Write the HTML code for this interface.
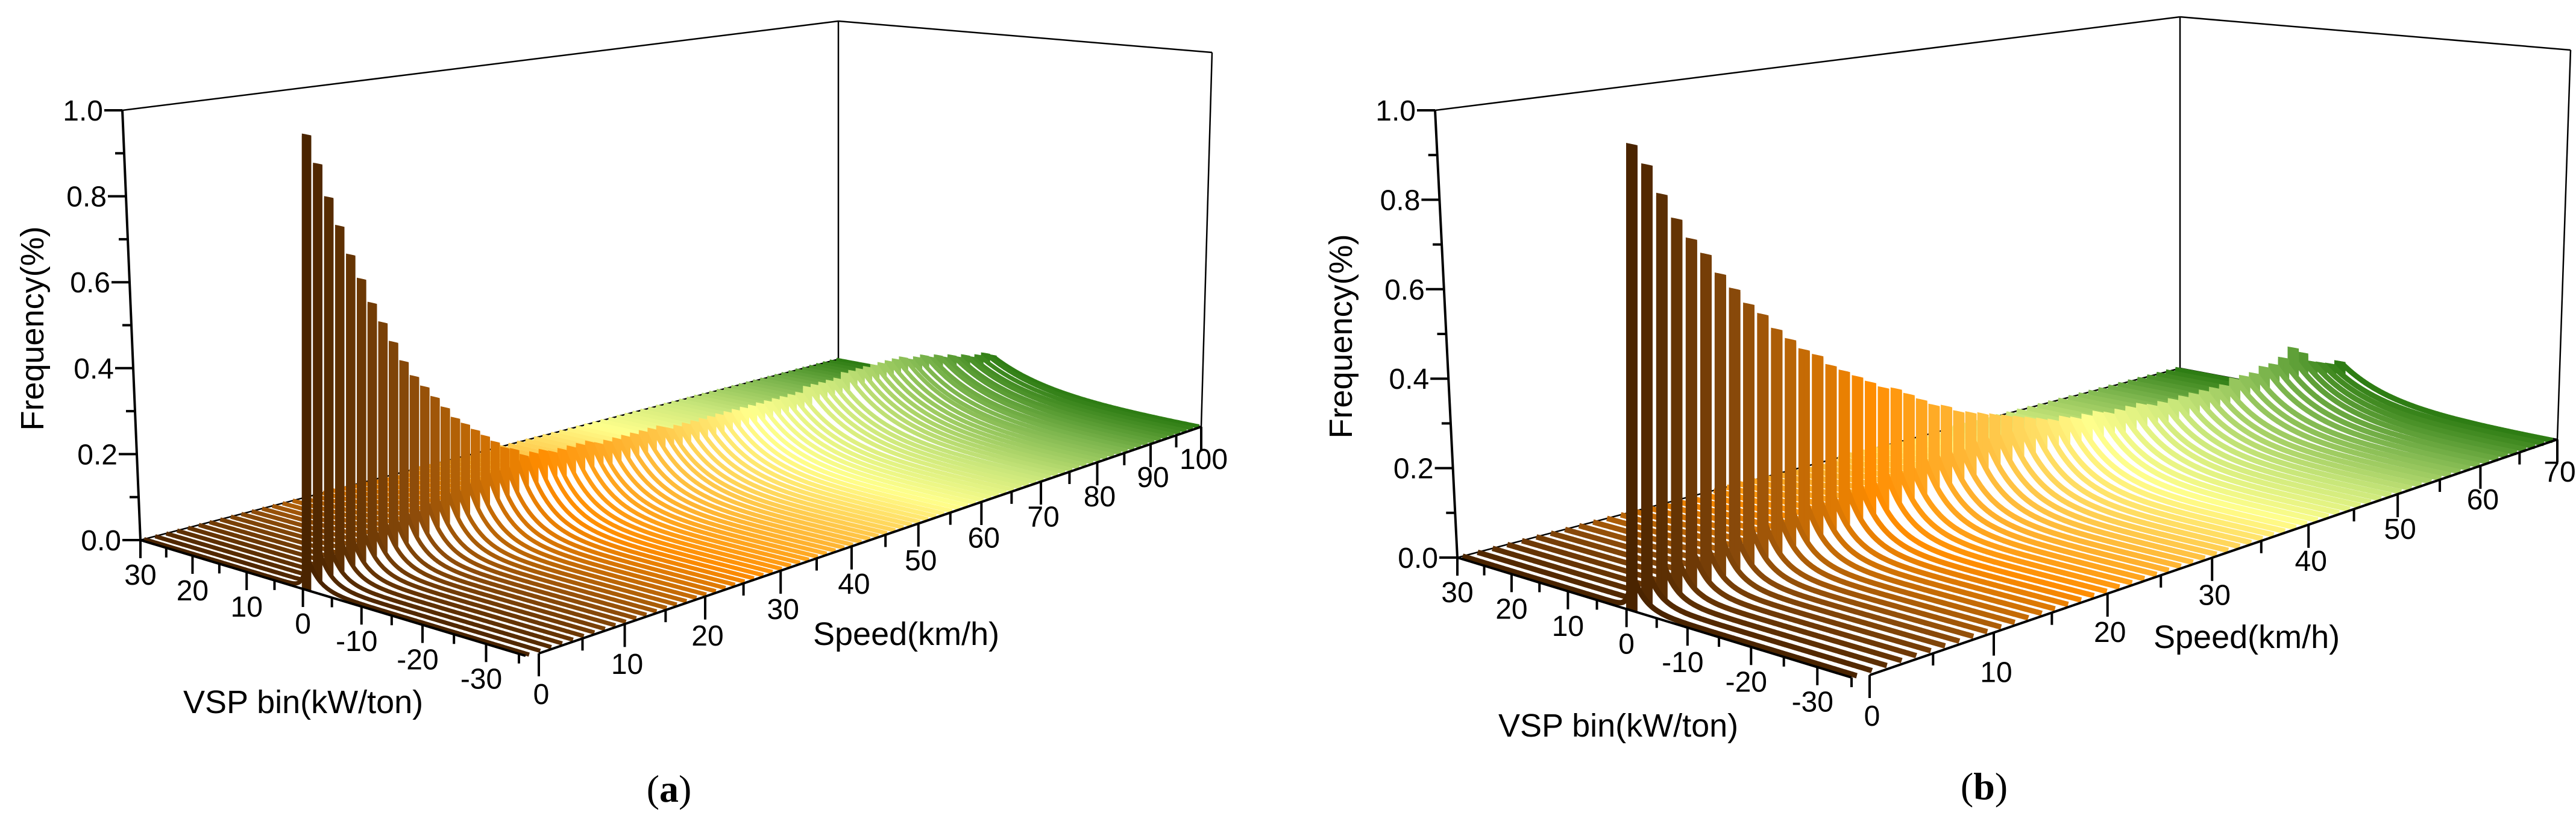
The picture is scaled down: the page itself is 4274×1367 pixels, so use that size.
<!DOCTYPE html>
<html><head><meta charset="utf-8"><style>
html,body{margin:0;padding:0;background:#fff;}
svg{display:block;}
text{font-family:"Liberation Sans",Arial,sans-serif;fill:#000;}
</style></head><body>
<svg id="fig" xmlns="http://www.w3.org/2000/svg" width="4274" height="1367" viewBox="0 0 4274 1367">
<rect x="0" y="0" width="4274" height="1367" fill="#fff"/>
<g id="chartA"></g>
<g id="chartB"></g>
<text x="1110" y="1330" font-size="64" text-anchor="middle" style="font-family:'Liberation Serif',serif">(<tspan font-weight="bold">a</tspan>)</text>
<text x="3292" y="1326" font-size="64" text-anchor="middle" style="font-family:'Liberation Serif',serif">(<tspan font-weight="bold">b</tspan>)</text>
</svg>
<script>
// ---------- data: chart (a) ----------
const speedStepA = 1.24;
const speedMaxA = 100;
const speedTicksA = [0,10,20,30,40,50,60,70,80,90,100];
const vspTicks = [30,20,10,0,-10,-20,-30];
const freqTicks = [0.0,0.2,0.4,0.6,0.8,1.0];
const peaksA = [1.01,0.94,0.86,0.79,0.72,0.66,0.60,0.55,0.50,0.45,0.41,0.38,0.35,0.32,0.29,0.27,0.25,0.23,0.21,0.19,0.18,0.16,
0.16,0.16,0.15,0.15,0.15,0.15,0.15,0.14,0.14,0.14,0.14,0.14,0.14,0.14,0.14,0.13,0.13,0.13,0.13,0.13,
0.13,0.13,0.13,0.13,0.13,0.13,0.13,0.13,0.13,0.13,0.13,0.13,0.14,0.14,0.14,0.14,0.14,0.15,0.15,0.15,
0.15,0.15,0.15,0.15,0.15,0.15,0.14,0.14,0.14,0.13,0.13,0.12,0.12,0.11,0.11,0.10,0.10,0.10,0.09];
const tailsA = [0.06,0.07,0.07,0.08,0.08,0.09,0.09,0.10,0.10,0.11,0.11,0.12,0.12,0.13,0.13,0.14,0.14,0.15,0.15,0.15,0.16,0.16];
const wNegA = [2,2.1,2.2,2.3,2.4,2.5,2.6,2.7,2.8,2.9,3,3.1,3.2,3.3,3.4,3.5,3.6,3.7,3.8,3.9,4,4.1,
4.2,4.3,4.4,4.5,4.6,4.7,4.8,4.9,5.0,5.1,5.2,5.3,5.4,5.5,5.6,5.7,5.8,5.9,6.0,6.1,6.2,6.3,6.4,6.5,6.6,6.7,6.8,6.9,7.0,7.1,7.2,7.3,7.4,7.5,7.6,7.7,7.8,7.9,8.0,8.1,8.2,8.3,8.4,8.5,8.6,8.7,8.8,8.9,9.0,9.1,9.2,9.3,9.4,9.5,9.6,9.7,9.8,9.9,10.0];
// ---------- data: chart (b) ----------
const speedStepB = 1.15;
const speedMaxB = 70;
const speedTicksB = [0,10,20,30,40,50,60,70];
const peaksB = [0.99,0.94,0.87,0.81,0.76,0.72,0.67,0.63,0.59,0.56,0.52,0.49,0.46,0.44,0.41,0.39,0.37,0.35,0.33,0.32,0.30,0.28,0.26,0.25,0.23,0.22,0.21,0.20,0.19,0.18,0.17,0.16,
0.15,0.15,0.14,0.14,0.14,0.13,0.13,0.13,0.13,0.12,0.12,0.12,0.12,0.12,0.12,0.12,0.12,0.13,0.13,0.13,0.14,0.14,0.15,0.17,0.15,0.12,0.11,0.10,0.10];
const tailsB = [0.06,0.06,0.07,0.07,0.08,0.08,0.09,0.09,0.10,0.10,0.11,0.11,0.12,0.12,0.12,0.13,0.13,0.13,0.14,0.14,0.14,0.15,0.15,0.15,0.15,0.16,0.16,0.16,0.16,0.16,0.16,0.16,
0.15,0.15,0.14,0.14,0.14,0.13,0.13,0.13,0.13,0.12,0.12,0.12,0.12,0.12,0.12,0.12,0.12,0.13,0.13,0.13,0.14,0.14,0.14,0.14,0.13,0.12,0.11,0.10,0.10];
const wNegB = [2.0,2.1,2.2,2.3,2.4,2.5,2.6,2.7,2.8,2.9,3.0,3.1,3.2,3.3,3.4,3.5,3.6,3.7,3.8,3.9,4.0,4.1,4.2,4.3,4.4,4.5,4.6,4.7,4.8,4.9,5.0,5.1,
5.2,5.3,5.4,5.5,5.6,5.7,5.8,5.9,6.0,6.1,6.2,6.3,6.4,6.5,6.6,6.7,6.8,6.9,7.0,7.1,7.2,7.3,7.4,7.5,7.6,7.7,7.8,7.9,8.0];

const NS = "http://www.w3.org/2000/svg";
function sq2quad(p0,p1,p2,p3){
  const [x0,y0]=p0,[x1,y1]=p1,[x2,y2]=p2,[x3,y3]=p3;
  const sx=x0-x1+x2-x3, sy=y0-y1+y2-y3;
  const dx1=x1-x2,dx2=x3-x2,dy1=y1-y2,dy2=y3-y2;
  const det=dx1*dy2-dx2*dy1;
  const g=(sx*dy2-dx2*sy)/det, h=(dx1*sy-sx*dy1)/det;
  const a=x1-x0+g*x1, b=x3-x0+h*x3, c=x0, d=y1-y0+g*y1, e=y3-y0+h*y3, f=y0;
  return (u,v)=>{const w=g*u+h*v+1;return [(a*u+b*v+c)/w,(d*u+e*v+f)/w];};
}
const colorStops=[[0,[74,36,0]],[0.12,[138,74,10]],[0.28,[255,140,0]],[0.45,[255,200,74]],[0.58,[255,255,140]],[0.72,[200,230,122]],[0.86,[128,184,80]],[1,[46,125,20]]];
function colorAt(t){
  for(let i=1;i<colorStops.length;i++){
    if(t<=colorStops[i][0]){const [t0,c0]=colorStops[i-1],[t1,c1]=colorStops[i];const f=(t-t0)/(t1-t0);
      return 'rgb('+c0.map((c,j)=>Math.round(c+(c1[j]-c)*f)).join(',')+')';}
  }
  return 'rgb(46,125,20)';
}
function el(parent,tag,attrs,txt){const e=document.createElementNS(NS,tag);for(const k in attrs)e.setAttribute(k,attrs[k]);if(txt!==undefined)e.textContent=txt;parent.appendChild(e);return e;}

function drawChart(g,cfg,peaks,tails,wNeg,speedStep,speedMax,speedTicks){
  const vmin=cfg.vmin;
  const Hf=sq2quad(cfg.A,cfg.D,cfg.C,cfg.B);
  const Ht=sq2quad(cfg.At,cfg.Dt,cfg.Ct,cfg.Bt);
  function proj(s,vsp,z){const u=s/speedMax,v=(30-vsp)/(30-vmin);const f=Hf(u,v),t=Ht(u,v);return [f[0]+(t[0]-f[0])*z,f[1]+(t[1]-f[1])*z];}
  // vertical-only projection for data marks
  function projV(s,vsp,z){const u=s/speedMax,v=(30-vsp)/(30-vmin);const f=Hf(u,v),t=Ht(u,v);return [f[0],f[1]+(t[1]-f[1])*z];}
  const frame=[[proj(0,30,1),proj(speedMax,30,1)],[proj(speedMax,30,1),proj(speedMax,vmin,1)],
    [proj(speedMax,30,0),proj(speedMax,30,1)],[proj(speedMax,vmin,0),proj(speedMax,vmin,1)],
    [proj(0,30,0),proj(speedMax,30,0)],[proj(speedMax,30,0),proj(speedMax,vmin,0)]];
  frame.forEach(([p,q])=>{
    const l=el(g,'line',{x1:p[0],y1:p[1],x2:q[0],y2:q[1],stroke:'#000','stroke-width':2.5});
    
    
  });
  const n=peaks.length, hb=cfg.half;
  for(let k=n-1;k>=0;k--){
    const s=k*speedStep+cfg.s0;
    const pk=peaks[k], tl=(k<tails.length?tails[k]:pk), wn=wNeg[k], wp=wn*0.3;
    const col=colorAt(k/(n-1));
    const pts=[];
    for(let vsp=30;vsp>hb;vsp-=0.25) pts.push([vsp,0.5*tl*Math.exp(-(vsp-hb)/wp)]);
    pts.push([hb,0.5*tl]);pts.push([hb,pk]);pts.push([-hb,pk]);pts.push([-hb,tl]);
    for(let vsp=-hb-0.2;vsp>=vmin;vsp-=0.2) pts.push([vsp,tl*Math.exp((vsp+hb)/wn)]);
    pts.push([vmin,tl*Math.exp((vmin+hb)/wn)]);
    let d='';
    pts.forEach(([v,z],i)=>{const p=projV(s,v,z);d+=(i?'L':'M')+p[0].toFixed(1)+','+p[1].toFixed(1);});
    const path=el(g,'path',{d:d,fill:'#fff',stroke:col,'stroke-width':cfg.sw,'stroke-linejoin':'round'});
    
    
    const b=[projV(s,hb,0),projV(s,hb,pk),projV(s,-hb,pk),projV(s,-hb,0)];
    const bar=el(g,'polygon',{points:b.map(p=>p[0].toFixed(1)+','+p[1].toFixed(1)).join(' '),fill:col,stroke:col,'stroke-width':cfg.sw,'stroke-linejoin':'miter'});
    
    
  }
  const z0=proj(0,30,0),z1=proj(0,30,1);
  const za=el(g,'line',{x1:z0[0],y1:z0[1],x2:z1[0],y2:z1[1],stroke:'#000','stroke-width':4});
  
  
  for(let i=0;i<=10;i++){
    const p=proj(0,30,i/10);const len=i%2===0?30:15;
    const t=el(g,'line',{x1:p[0]-len,y1:p[1],x2:p[0],y2:p[1],stroke:'#000','stroke-width':4});
    
    
  }
  freqTicks.forEach(v=>{
    const p=proj(0,30,v);
    const t=el(g,'text',{x:p[0]-32,y:p[1]+17,'font-size':48,'text-anchor':'end'},v.toFixed(1));
    
    
  });
  const v0=proj(0,30,0),v1=proj(0,vmin,0);
  const va=el(g,'line',{x1:v0[0],y1:v0[1],x2:v1[0],y2:v1[1],stroke:'#000','stroke-width':4});
  
  
  for(let vsp=30;vsp>=vmin;vsp-=5){
    const p=proj(0,vsp,0);const len=vsp%10===0?30:16;
    const t=el(g,'line',{x1:p[0],y1:p[1],x2:p[0],y2:p[1]+len,stroke:'#000','stroke-width':4});
    
    
  }
  vspTicks.forEach(v=>{
    const p=proj(0,v,0);
    const t=el(g,'text',{x:p[0]-(v<0?8:0),y:p[1]+74,'font-size':48,'text-anchor':'middle'},String(v));
    
    
  });
  const off=cfg.sOff;
  const s0=proj(0,vmin,0),s1=proj(speedMax,vmin,0);
  const sa=el(g,'line',{x1:s0[0]+off[0],y1:s0[1]+off[1],x2:s1[0],y2:s1[1],stroke:'#000','stroke-width':4});
  
  
  function sp(s){const p=proj(s,vmin,0);const f=1-s/speedMax;return [p[0]+off[0]*f,p[1]+off[1]*f];}
  for(let s=0;s<=speedMax;s+=5){
    const p=sp(s);const len=s%10===0?38:20;
    const t=el(g,'line',{x1:p[0],y1:p[1],x2:p[0],y2:p[1]+len,stroke:'#000','stroke-width':4});
    
    
  }
  speedTicks.forEach(s=>{
    const p=sp(s);
    const t=el(g,'text',{x:p[0]+4,y:p[1]+84-s/speedMax*14,'font-size':48,'text-anchor':'middle'},String(s));
    
    
  });
  const ft=el(g,'text',{x:0,y:0,'font-size':54,'text-anchor':'middle',transform:'translate('+cfg.fTitle[0]+','+cfg.fTitle[1]+') rotate(-90)'},'Frequency(%)');
  
  
  const st=el(g,'text',{x:cfg.sTitle[0],y:cfg.sTitle[1],'font-size':54,'text-anchor':'start'},'Speed(km/h)');
  
  
  const vt=el(g,'text',{x:cfg.vTitle[0],y:cfg.vTitle[1],'font-size':54,'text-anchor':'start'},'VSP bin(kW/ton)');
  
  
}

drawChart(document.getElementById('chartA'),{
  vmin:-36, A:[233,896], D:[1391,596], C:[1993,708], B:[872,1088],
  At:[203,183], Dt:[1391,35], Ct:[2011,87], Bt:[858,318],
  s0:0.4, sw:7, half:0.45, sOff:[22,-4], fTitle:[72,545], sTitle:[1349,1070], vTitle:[304,1183]
},peaksA,tailsA,wNegA,speedStepA,speedMaxA,speedTicksA);

drawChart(document.getElementById('chartB'),{
  vmin:-35, A:[2418,925], D:[3617,611], C:[4243,729], B:[3072,1124],
  At:[2381,183], Dt:[3617,28], Ct:[4265,83], Bt:[3057,321],
  s0:0.4, sw:9, half:0.5, sOff:[30,-4], fTitle:[2243,558], sTitle:[3573,1075], vTitle:[2486,1222]
},peaksB,tailsB,wNegB,speedStepB,speedMaxB,speedTicksB);
</script>
</body></html>
